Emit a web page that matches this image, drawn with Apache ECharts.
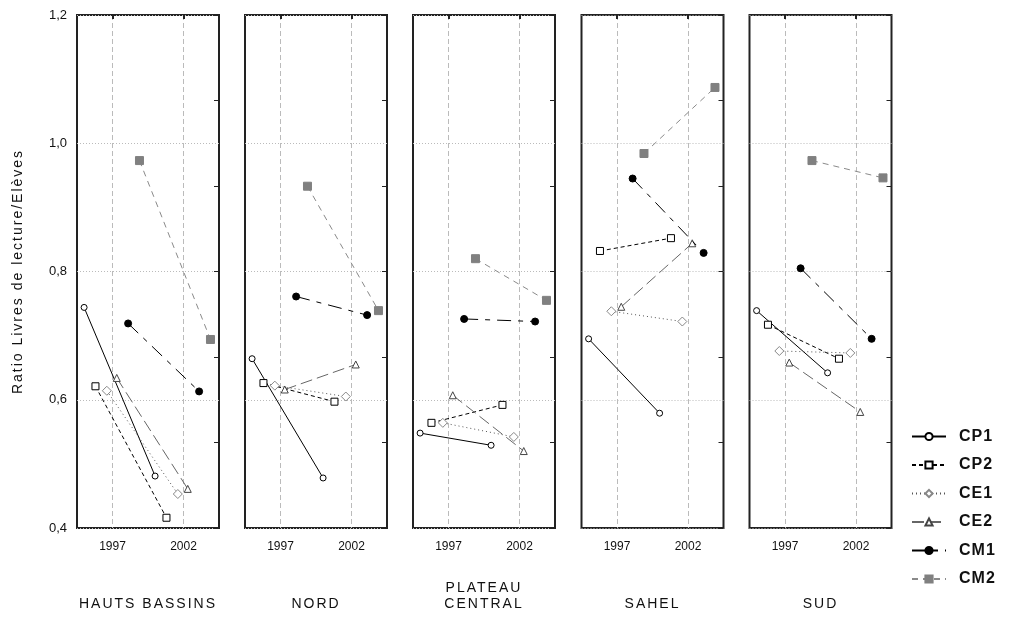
<!DOCTYPE html>
<html>
<head>
<meta charset="utf-8">
<script src="https://cdn.jsdelivr.net/npm/echarts@6/dist/echarts.min.js"></script>
<style>
html,body{margin:0;padding:0;background:#fff;}
#chart{width:1009px;height:622px;}
</style>
</head>
<body>
<div id="chart"></div>
<script>
// letter-spacing support for canvas text: font family marker "spN" (N px, '_' as decimal point)
(function () {
  try {
    const proto = CanvasRenderingContext2D.prototype;
    const d = Object.getOwnPropertyDescriptor(proto, 'font');
    if (d && d.set && 'letterSpacing' in proto) {
      Object.defineProperty(proto, 'font', {
        configurable: true, enumerable: d.enumerable,
        get() { return d.get.call(this); },
        set(v) {
          const m = /\bsp(\d+(?:_\d+)?)\b/.exec(v);
          this.letterSpacing = m ? m[1].replace('_', '.') + 'px' : '0px';
          d.set.call(this, v);
        }
      });
    }
  } catch (e) {}
})();

// ---- data ----
const regions = ['HAUTS BASSINS', 'NORD', 'PLATEAU\nCENTRAL', 'SAHEL', 'SUD'];
const classes = ['CP1', 'CP2', 'CE1', 'CE2', 'CM1', 'CM2'];
const yearTicks = [1997, 2002];
// plotted x-position of each class's two surveys (offset per class)
const firstYear = [1995.0, 1995.8, 1996.6, 1997.3, 1998.1, 1998.9];
const secondYear = [2000.0, 2000.8, 2001.6, 2002.3, 2003.1, 2003.9];
// values per class: [first, second] for each region in order
const CP1 = [[0.744, 0.481], [0.664, 0.478], [0.548, 0.529], [0.695, 0.579], [0.739, 0.642]];
const CP2 = [[0.621, 0.416], [0.626, 0.597], [0.564, 0.592], [0.832, 0.852], [0.717, 0.664]];
const CE1 = [[0.614, 0.453], [0.622, 0.605], [0.564, 0.542], [0.738, 0.722], [0.676, 0.673]];
const CE2 = [[0.634, 0.461], [0.616, 0.655], [0.607, 0.520], [0.745, 0.844], [0.658, 0.581]];
const CM1 = [[0.719, 0.613], [0.761, 0.732], [0.726, 0.722], [0.945, 0.829], [0.805, 0.695]];
const CM2 = [[0.973, 0.694], [0.933, 0.739], [0.820, 0.755], [0.984, 1.087], [0.973, 0.946]];
const values = [CP1, CP2, CE1, CE2, CM1, CM2];

// ---- styles ----
const styles = [
  {symbol: 'circle', size: 6, fill: '#fff', stroke: '#000', line: '#000', type: 'solid'},
  {symbol: 'rect', size: 7, fill: '#fff', stroke: '#000', line: '#000', type: [4, 3]},
  {symbol: 'diamond', size: 9, fill: '#fff', stroke: '#888', line: '#555', type: [1, 3]},
  {symbol: 'triangle', size: 7, fill: '#fff', stroke: '#444', line: '#666', type: [12, 5]},
  {symbol: 'circle', size: 7, fill: '#000', stroke: '#000', line: '#000', type: [14, 7, 5, 7]},
  {symbol: 'rect', size: 8, fill: '#808080', stroke: '#808080', line: '#8a8a8a', type: [6, 5]}
];

const FONT = 'Arial, "Liberation Sans", sans-serif';
const gridLeft = [77, 245, 413, 581.5, 749.5];
const gridW = 142, gridTop = 15, gridH = 513;

const grid = [], xAxis = [], yAxis = [], series = [];
regions.forEach((reg, i) => {
  grid.push({left: gridLeft[i], top: gridTop, width: gridW, height: gridH,
    show: true, borderColor: '#222', borderWidth: 2, backgroundColor: 'transparent'});
  xAxis.push({
    type: 'value', gridIndex: i, min: 1994.5, max: 2004.5, position: 'bottom',
    name: reg, nameLocation: 'middle', nameGap: 84,
    nameTextStyle: {fontFamily: 'sp2, ' + FONT, fontSize: 14, color: '#111', verticalAlign: 'bottom', lineHeight: 16},
    axisLine: {show: false},
    axisTick: {show: false, customValues: yearTicks},
    axisLabel: {customValues: yearTicks, fontFamily: FONT, fontSize: 12, color: '#111', margin: 13,
      formatter: v => String(v)},
    splitLine: {show: true, lineStyle: {color: '#bbb', type: [5, 3], width: 1}}
  });
  xAxis.push({
    type: 'value', gridIndex: i, min: 1994.5, max: 2004.5, position: 'top',
    axisLine: {show: false},
    axisTick: {show: true, inside: true, length: 4, customValues: yearTicks, lineStyle: {color: '#222', width: 2}},
    axisLabel: {show: false, customValues: yearTicks},
    splitLine: {show: false}
  });
  yAxis.push({
    type: 'value', gridIndex: i, min: 0.4, max: 1.2, interval: 0.2, position: 'left',
    name: i === 0 ? 'Ratio Livres de lecture/Elèves' : '',
    nameLocation: 'middle', nameGap: 51, nameRotate: 90,
    nameTextStyle: {fontFamily: 'sp2, ' + FONT, fontSize: 14, color: '#111'},
    axisLine: {show: false},
    axisTick: {show: false},
    axisLabel: {show: i === 0, fontFamily: FONT, fontSize: 13, color: '#111', margin: 10,
      formatter: v => v.toFixed(1).replace('.', ',')},
    splitLine: {show: true, lineStyle: {color: '#bbb', type: [1, 2], width: 1}}
  });
  yAxis.push({
    type: 'value', gridIndex: i, min: 0, max: 6, interval: 1, position: 'right',
    axisLine: {show: false},
    axisTick: {show: true, inside: true, length: 5, lineStyle: {color: '#222', width: 1}},
    axisLabel: {show: false},
    splitLine: {show: false}
  });
  classes.forEach((c, k) => {
    const s = styles[k];
    series.push({
      type: 'line', name: c, xAxisIndex: 2 * i, yAxisIndex: 2 * i,
      data: [[firstYear[k], values[k][i][0]], [secondYear[k], values[k][i][1]]],
      symbol: s.symbol, symbolSize: s.size, showAllSymbol: true,
      lineStyle: {color: s.line, width: 1, type: s.type},
      itemStyle: {color: s.fill, borderColor: s.stroke, borderWidth: 1},
      emphasis: {disabled: true}, animation: false, z: 3 + k
    });
  });
});

const chart = echarts.init(document.getElementById('chart'), null, {renderer: 'canvas'});
chart.setOption({
  backgroundColor: '#fff',
  animation: false,
  grid, xAxis, yAxis, series,
  legend: {
    data: classes, orient: 'vertical', left: 906, top: 423,
    itemWidth: 34, itemHeight: 9, itemGap: 11.5,
    textStyle: {fontFamily: 'sp1, ' + FONT, fontSize: 16, fontWeight: 'bold', color: '#111', padding: [0, 0, 0, 8]},
    selectedMode: false
  }
});
</script>
</body>
</html>
